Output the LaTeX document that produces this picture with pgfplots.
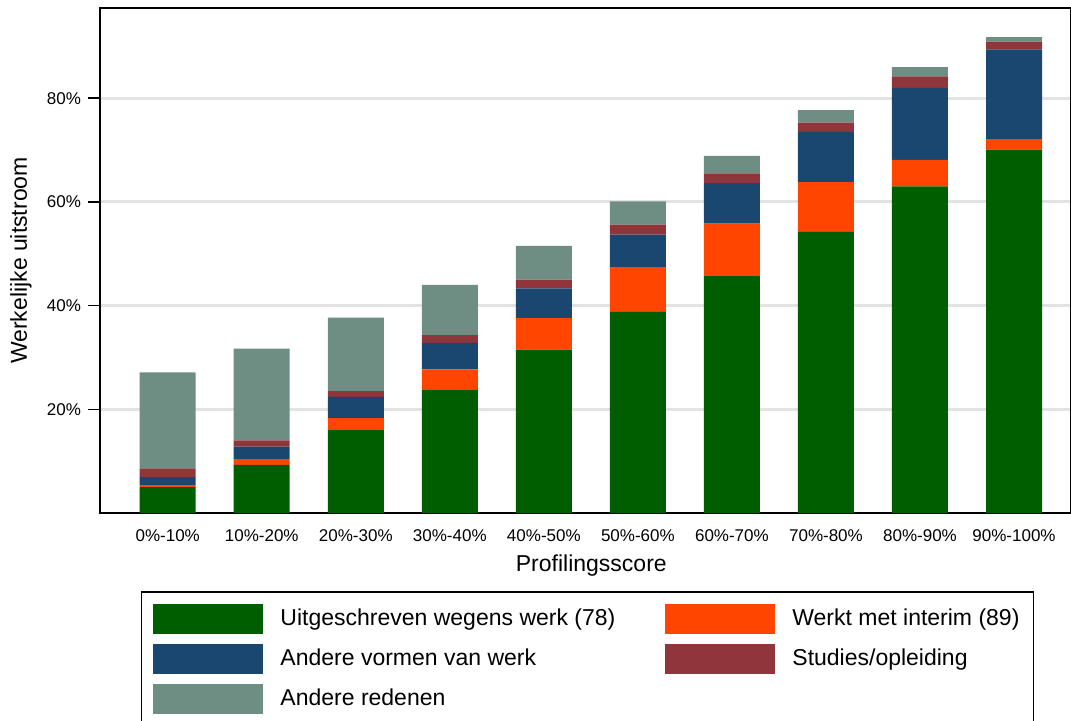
\documentclass[border=0pt]{standalone}
\usepackage{fontspec}
\setmainfont{Liberation Sans}
\usepackage{pgfplots}
\pgfplotsset{compat=1.18}
\definecolor{cgreen}{HTML}{005E00}
\definecolor{corange}{HTML}{FF4500}
\definecolor{cblue}{HTML}{1A476F}
\definecolor{cred}{HTML}{90353B}
\definecolor{cgrey}{HTML}{6E8E84}
\begin{document}
\begin{tikzpicture}
\useasboundingbox (0,0) rectangle (535.5pt,360pt);
\begin{axis}[
  at={(50pt,103.5pt)}, anchor=south west,
  scale only axis, width=485.5pt, height=252.5pt,
  ybar stacked, bar width=28pt,
  xmin=0.28, xmax=10.606, ymin=0, ymax=97.4,
  xtick={1,2,3,4,5,6,7,8,9,10},
  xticklabels={0\%-10\%,10\%-20\%,20\%-30\%,30\%-40\%,40\%-50\%,50\%-60\%,60\%-70\%,70\%-80\%,80\%-90\%,90\%-100\%},
  xtick style={draw=none},
  ytick={20,40,60,80},
  yticklabel={\pgfmathprintnumber{\tick}\%},
  /pgf/number format/assume math mode=true,
  ytick pos=left, tick align=outside,
  major tick length=6pt,
  ytick style={line width=0.8pt, black},
  ticklabel style={font=\fontsize{8.5}{10}\selectfont},
  xticklabel style={anchor=base, yshift=-8pt},
  ymajorgrids, major grid style={color=black!11, line width=1.5pt},
  axis line style={line width=1pt},
  xlabel={Profilingsscore},
  ylabel={Werkelijke uitstroom},
  label style={font=\fontsize{11.5}{13}\selectfont},
  xlabel style={at={(axis description cs:0.506,-0.1168)}, anchor=base},
  ylabel style={at={(axis description cs:-0.0814,0.5)}, anchor=center, rotate=0},
  legend columns=2,
  legend cell align=left,
  legend image code/.code={\fill[#1] (0pt,-7.5pt) rectangle (55pt,7.5pt);},
  legend style={at={(0.0419,-0.1545)}, anchor=north west,
    font=\fontsize{11.5}{13}\selectfont,
    draw=black, line width=0.8pt,
    inner xsep=6pt, inner ysep=6pt, row sep=5pt,
    nodes={inner sep=1pt},
    /tikz/every odd column/.append style={column sep=7.5pt},
    /tikz/every even column/.append style={column sep=24pt}},
]
\addplot+[fill=cgreen, draw=none] coordinates {(1,5.0) (2,9.3) (3,16.0) (4,23.7) (5,31.5) (6,38.8) (7,45.7) (8,54.3) (9,63.0) (10,70.1)};
\addplot+[fill=corange, draw=none] coordinates {(1,0.4) (2,1.1) (3,2.3) (4,4.0) (5,6.1) (6,8.6) (7,10.1) (8,9.5) (9,5.1) (10,2.0)};
\addplot+[fill=cblue, draw=none] coordinates {(1,1.5) (2,2.4) (3,4.1) (4,5.1) (5,5.7) (6,6.3) (7,7.8) (8,9.7) (9,13.9) (10,17.3)};
\addplot+[fill=cred, draw=none] coordinates {(1,1.7) (2,1.2) (3,1.1) (4,1.5) (5,1.7) (6,1.9) (7,1.9) (8,1.8) (9,2.2) (10,1.5)};
\addplot+[fill=cgrey, draw=none] coordinates {(1,18.5) (2,17.7) (3,14.2) (4,9.7) (5,6.5) (6,4.5) (7,3.4) (8,2.4) (9,1.8) (10,0.9)};
\legend{Uitgeschreven wegens werk (78), Werkt met interim (89), Andere vormen van werk, Studies/opleiding, Andere redenen}
\end{axis}
\end{tikzpicture}
\end{document}
